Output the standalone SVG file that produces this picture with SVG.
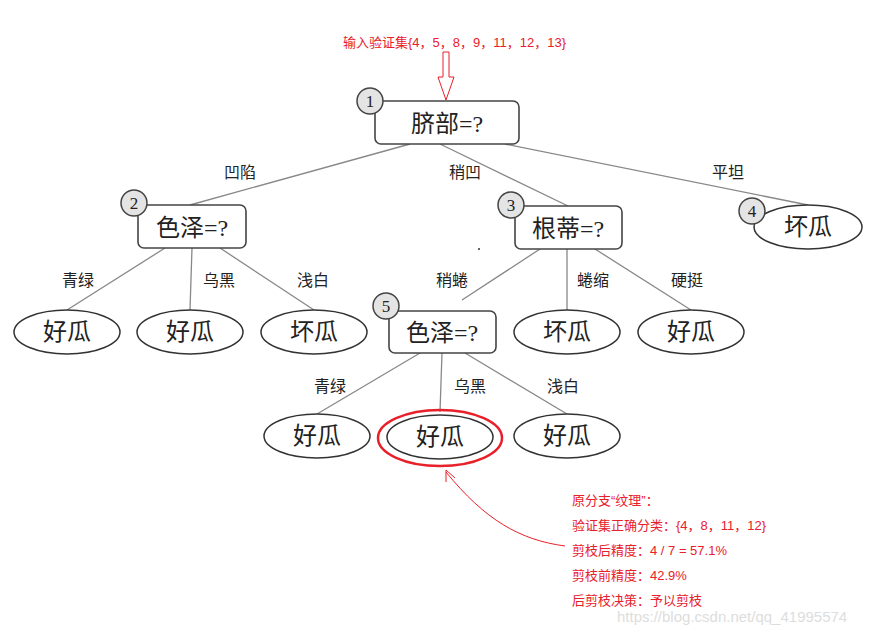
<svg xmlns="http://www.w3.org/2000/svg" width="869" height="633" viewBox="0 0 869 633">
<style>
.box{fill:#fff;stroke:#444;stroke-width:1.6}
.ell{fill:#fff;stroke:#333;stroke-width:1.5}
.num{fill:#e4e4e4;stroke:#444;stroke-width:1.5}
.nt{font-family:"Liberation Serif","Noto Sans CJK SC",serif;font-size:17px;text-anchor:middle;fill:#222}
.t{font-family:"Liberation Serif","Noto Sans CJK SC",serif;font-size:24px;text-anchor:middle;fill:#222}
.el{font-family:"Noto Sans CJK SC",serif;font-size:16px;text-anchor:middle;fill:#222}
.r{font-family:"Liberation Sans","Noto Sans CJK SC",sans-serif;font-size:13px;fill:#e8202a}
.ln{stroke:#888;stroke-width:1.3;fill:none}
</style>
<rect width="869" height="633" fill="#fff"/>
<g id="connectors">
<path class="ln" d="M410,144L190,205M440,144L568,206M505,144L808,205M165,248L67,310M192,248L190,310M220,248L314,310M540,249L462,300M567,249L567,310M595,249L691,310M420,353L317,414M442,353L440,412M465,353L567,414"/>
<path d="M443,52V77H438L446,100L454,77H449V52Z" fill="none" stroke="#e8202a" stroke-width="1"/>
<path d="M565,546C520,540 485,520 446,472" fill="none" stroke="#e8202a" stroke-width="1"/>
<path d="M446,470L446,482M446,470L455,478" stroke="#e8202a" stroke-width="1"/>
<circle cx="479" cy="249" r="1" fill="#333"/>
</g>
<g class="el">
<text x="240" y="178">凹陷</text><text x="465" y="178">稍凹</text><text x="728" y="178">平坦</text>
<text x="78" y="286">青绿</text><text x="219" y="286">乌黑</text><text x="313" y="286">浅白</text>
<text x="452" y="286">稍蜷</text><text x="593" y="286">蜷缩</text><text x="687" y="286">硬挺</text>
<text x="330" y="392">青绿</text><text x="470" y="392">乌黑</text><text x="563" y="392">浅白</text>
</g>
<g id="n1"><rect class="box" x="375" y="101" width="144" height="43" rx="6"/><text class="t" x="447" y="132">脐部=?</text><circle class="num" cx="370" cy="101" r="13"/><text class="nt" x="370" y="107">1</text></g>
<g id="n2"><rect class="box" x="138" y="205" width="108" height="43" rx="6"/><text class="t" x="192" y="236">色泽=?</text><circle class="num" cx="134" cy="203" r="13"/><text class="nt" x="134" y="209">2</text></g>
<g id="n3"><rect class="box" x="515" y="206" width="107" height="43" rx="6"/><text class="t" x="568" y="237">根蒂=?</text><circle class="num" cx="511" cy="205" r="13"/><text class="nt" x="511" y="211">3</text></g>
<g id="n4"><ellipse class="ell" cx="808" cy="227" rx="54" ry="22"/><text class="t" x="808" y="235">坏瓜</text><circle class="num" cx="752" cy="211" r="13"/><text class="nt" x="752" y="217">4</text></g>
<g id="n5"><rect class="box" x="389" y="311" width="107" height="42" rx="6"/><text class="t" x="442" y="341">色泽=?</text><circle class="num" cx="386" cy="306" r="13"/><text class="nt" x="386" y="312">5</text></g>
<g id="l1"><ellipse class="ell" cx="67" cy="332" rx="53" ry="22"/><text class="t" x="67" y="340">好瓜</text></g>
<g id="l2"><ellipse class="ell" cx="190" cy="332" rx="53" ry="22"/><text class="t" x="190" y="340">好瓜</text></g>
<g id="l3"><ellipse class="ell" cx="314" cy="332" rx="53" ry="22"/><text class="t" x="314" y="340">坏瓜</text></g>
<g id="l4"><ellipse class="ell" cx="567" cy="332" rx="53" ry="22"/><text class="t" x="567" y="340">坏瓜</text></g>
<g id="l5"><ellipse class="ell" cx="691" cy="332" rx="53" ry="22"/><text class="t" x="691" y="340">好瓜</text></g>
<g id="l6"><ellipse class="ell" cx="317" cy="436" rx="53" ry="22"/><text class="t" x="317" y="444">好瓜</text></g>
<g id="l7"><ellipse class="ell" cx="440" cy="437" rx="53" ry="22"/><text class="t" x="440" y="445">好瓜</text><ellipse cx="440" cy="438" rx="62" ry="28" fill="none" stroke="#e8202a" stroke-width="2.5"/></g>
<g id="l8"><ellipse class="ell" cx="567" cy="436" rx="53" ry="22"/><text class="t" x="567" y="444">好瓜</text></g>
<g id="notes" class="r">
<text x="343" y="47">输入验证集{4，5，8，9，11，12，13}</text>
<text x="572" y="505">原分支“纹理”：</text>
<text x="572" y="530">验证集正确分类：{4，8，11，12}</text>
<text x="572" y="555">剪枝后精度：4 / 7 = 57.1%</text>
<text x="572" y="580">剪枝前精度：42.9%</text>
<text x="572" y="605">后剪枝决策：予以剪枝</text>
</g>
<text x="617" y="622" font-family="Liberation Sans,sans-serif" font-size="15" fill="#ddd">https://blog.csdn.net/qq_41995574</text>
</svg>
